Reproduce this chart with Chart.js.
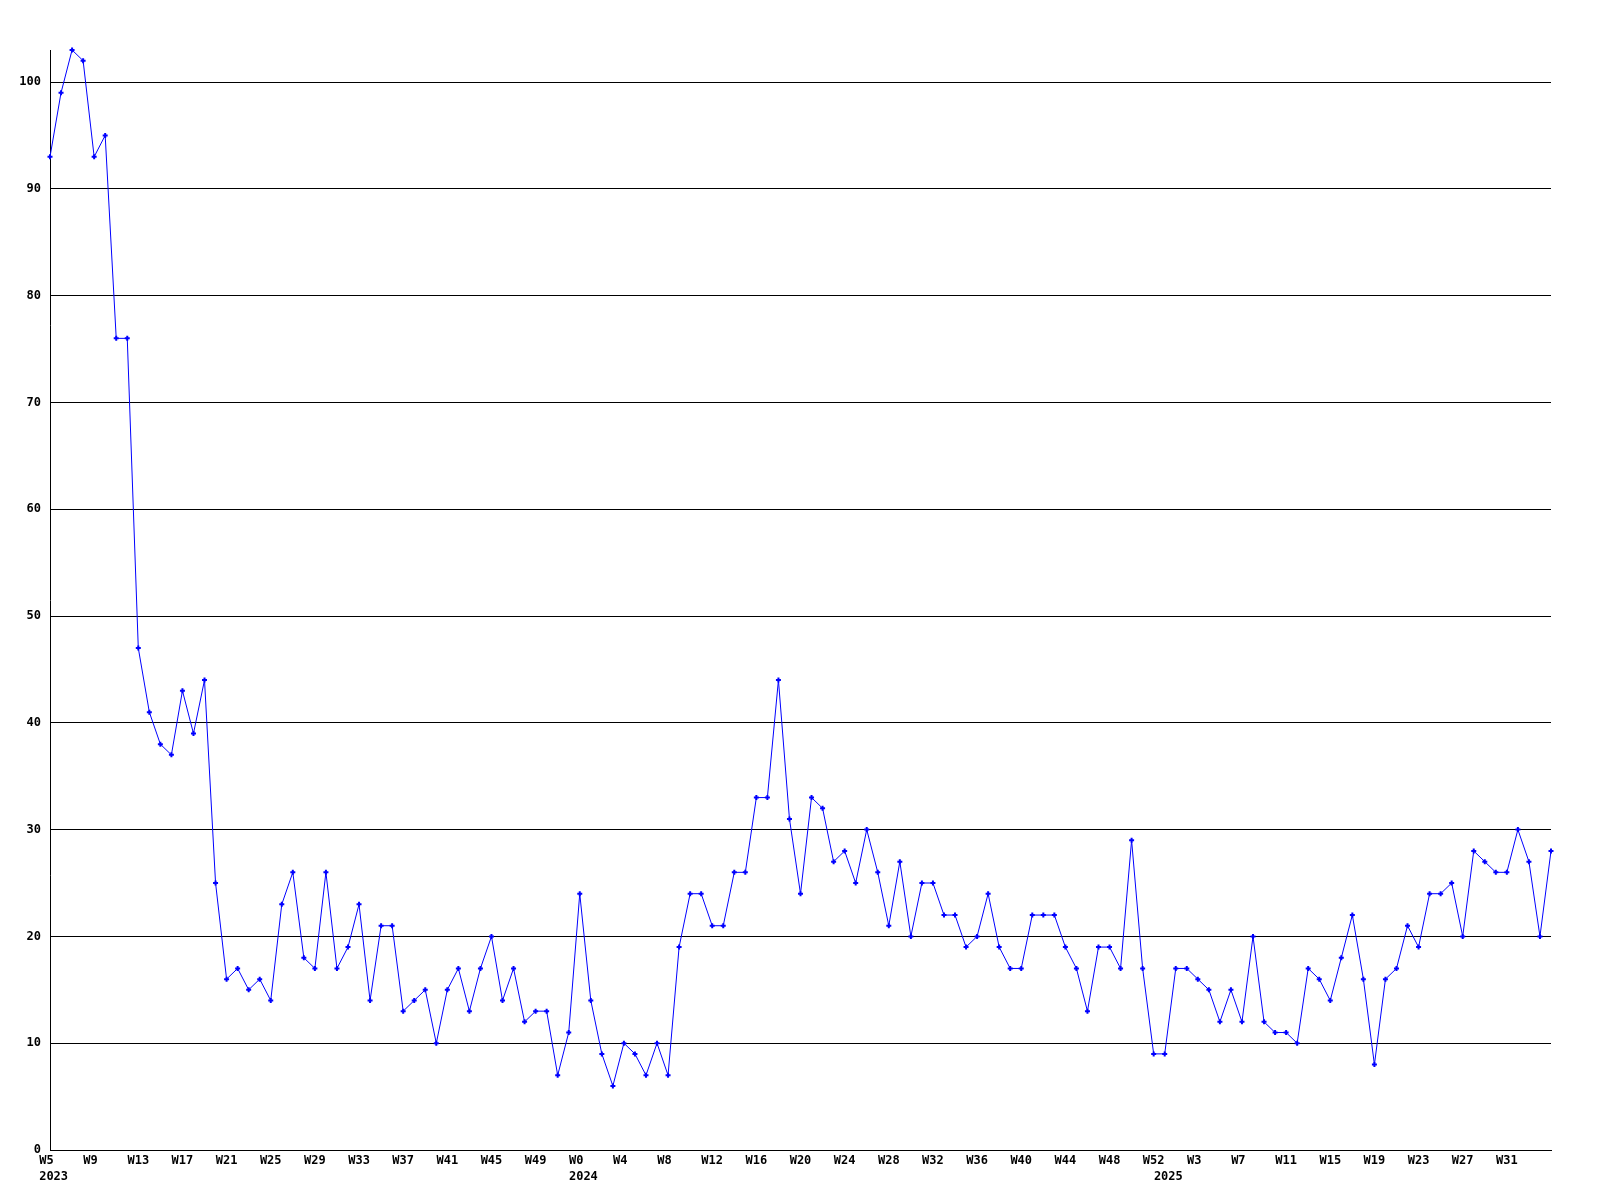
<!DOCTYPE html>
<html>
<head>
<meta charset="utf-8">
<script src="https://cdn.jsdelivr.net/npm/chart.js@4.4.1/dist/chart.umd.min.js"></script>
<style>
  html, body { margin: 0; padding: 0; background: #ffffff; }
  #wrap { width: 1600px; height: 1200px; }
</style>
</head>
<body>
<div id="wrap"><canvas id="c" width="1600" height="1200"></canvas></div>
<script>
// Year segments of the weekly series: [year, first week, last week]
const yearSegments = [[2023, 5, 52], [2024, 0, 52], [2025, 0, 35]];

// Weekly values (W5 2023 .. W35 2025)
const counts = [
  93, 99, 103, 102, 93, 95, 76, 76, 47, 41,
  38, 37, 43, 39, 44, 25, 16, 17, 15, 16,
  14, 23, 26, 18, 17, 26, 17, 19, 23, 14,
  21, 21, 13, 14, 15, 10, 15, 17, 13, 17,
  20, 14, 17, 12, 13, 13, 7, 11, 24, 14,
  9, 6, 10, 9, 7, 10, 7, 19, 24, 24,
  21, 21, 26, 26, 33, 33, 44, 31, 24, 33,
  32, 27, 28, 25, 30, 26, 21, 27, 20, 25,
  25, 22, 22, 19, 20, 24, 19, 17, 17, 22,
  22, 22, 19, 17, 13, 19, 19, 17, 29, 17,
  9, 9, 17, 17, 16, 15, 12, 15, 12, 20,
  12, 11, 11, 10, 17, 16, 14, 18, 22, 16,
  8, 16, 17, 21, 19, 24, 24, 25, 20, 28,
  27, 26, 26, 30, 27, 20, 28
];

// Y axis tick settings
const yMin = 0;
const yMax = 103;
const yStep = 10;
// Every n-th week gets a label
const weekLabelEvery = 4;

// Build categories
const weekLabels = [];
const yearLabelAt = {};
for (const [yr, w0, w1] of yearSegments) {
  yearLabelAt[weekLabels.length] = String(yr);
  for (let w = w0; w <= w1; w++) weekLabels.push('W' + w);
}

const FONT = { family: 'DejaVu Sans Mono', size: 12, weight: 'bold', lineHeight: '16px' };

// monospace padding so labels start slightly left of their tick (as in the reference)
function padWeek(s) { while (s.length < 3) s += ' '; return s; }
function padYear(s) { return ' ' + s; }

new Chart(document.getElementById('c'), {
  type: 'line',
  data: {
    labels: weekLabels,
    datasets: [{
      data: counts,
      borderColor: '#0000ff',
      backgroundColor: '#0000ff',
      borderWidth: 1,
      tension: 0,
      fill: false,
      pointStyle: 'cross',
      pointRadius: 2.5,
      pointBorderWidth: 2,
      pointBorderColor: '#0000ff',
      pointBackgroundColor: '#0000ff',
      clip: false
    }]
  },
  options: {
    responsive: false,
    animation: false,
    events: [],
    layout: { padding: { left: 0, top: 50, right: 49, bottom: 0 } },
    plugins: { legend: { display: false }, tooltip: { enabled: false }, title: { display: false } },
    scales: {
      x: {
        type: 'category',
        offset: false,
        grid: { display: false, drawTicks: false },
        border: { display: true, color: '#000000', width: 1 },
        afterFit: (s) => { s.height = 50; },
        ticks: {
          autoSkip: false,
          maxRotation: 0,
          minRotation: 0,
          padding: 3,
          color: '#000000',
          font: FONT,
          callback: function (value, index) {
            const last = weekLabels.length - 1;
            const wk = (index % weekLabelEvery === 0 && index !== last) ? padWeek(weekLabels[index]) : '';
            const yr = yearLabelAt[index];
            if (yr !== undefined) return [wk, padYear(yr)];
            return wk;
          }
        }
      },
      y: {
        type: 'linear',
        min: yMin,
        max: yMax,
        afterFit: (s) => { s.width = 50; },
        grid: { display: true, color: '#000000', lineWidth: 1, drawTicks: false },
        border: { display: true, color: '#000000', width: 1 },
        ticks: {
          stepSize: yStep,
          includeBounds: false,
          padding: 9,
          color: '#000000',
          font: FONT
        }
      }
    }
  }
});
</script>
</body>
</html>
